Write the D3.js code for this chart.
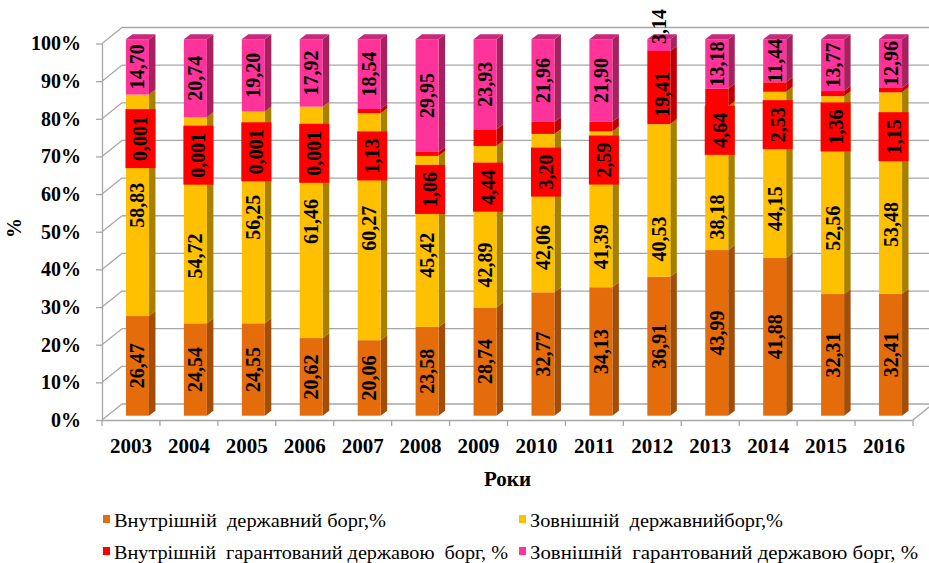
<!DOCTYPE html>
<html><head><meta charset="utf-8">
<script src="https://cdn.jsdelivr.net/npm/d3@7"></script>
<style>
html,body{margin:0;padding:0;background:#fff;}
svg{display:block;}
</style></head>
<body>
<svg id="chart" width="929" height="563"></svg>
<script>
// ---------- data ----------
const years = ["2003","2004","2005","2006","2007","2008","2009","2010","2011","2012","2013","2014","2015","2016"];
const internalDebt   = [26.47,24.54,24.55,20.62,20.06,23.58,28.74,32.77,34.13,36.91,43.99,41.88,32.31,32.41];
const externalDebt   = [58.83,54.72,56.25,61.46,60.27,45.42,42.89,42.06,41.39,40.53,38.18,44.15,52.56,53.48];
const internalGuar   = [0.001,0.001,0.001,0.001,1.13,1.06,4.44,3.20,2.59,19.41,4.64,2.53,1.36,1.15];
const externalGuar   = [14.70,20.74,19.20,17.92,18.54,29.95,23.93,21.96,21.90,3.14,13.18,11.44,13.77,12.96];
const seriesNames = ["Внутрішній  державний борг,%","Зовнішній  державнийборг,%","Внутрішній  гарантований державою  борг, %","Зовнішній  гарантований державою борг, %"];
const yTicks = [0,10,20,30,40,50,60,70,80,90,100];
// label anchors (axis %) where labels were moved by hand in the original
const yellowLabelAt = [55.9,42.4,52.7,51.6,49.8,42.6,40.0,44.7,44.9,46.9,52.8,55.0,49.8,50.8];
const redLabelAt    = [73.6,69.2,70.1,69.7,69.0,60.1,60.7,64.7,67.9,85.4,75.8,77.3,76.7,74.1];
const pinkLabelAt   = [null,null,null,null,null,null,null,null,null,103.4,null,null,null,null];

// ---------- styles ----------
const FONT = "Liberation Serif";
const colors = [
  {front:"#E46C0A", side:"#A24D08", top:"#C25C09"},
  {front:"#FFC000", side:"#A88000", top:"#D9A300"},
  {front:"#FF0000", side:"#C00000", top:"#D60000"},
  {front:"#FF3399", side:"#A8215F", top:"#C8287A"}
];
const gridColor = "#A6A6A6";

const svg = d3.select("#chart");
const X0 = 102, X1 = 913, Y0 = 420, Y100 = 43.5;
const D = {x:20, y:-16};           // wall depth
const B = {x:6.5, y:-4.3};         // bar front-face offset
const BD = {x:6.5, y:-5};          // bar depth
const barW = 23;

const x = d3.scaleBand().domain(years).range([X0, X1]);
const yF = d3.scaleLinear().domain([0,100]).range([Y0, Y100]);   // front plane
const yB = v => yF(v) + B.y;                                       // bar front plane

function styleText(sel, size, bold) {
  return sel.style("font-family", FONT).style("font-size", size + "px")
    .style("font-weight", bold ? "bold" : "normal").attr("fill", "#000");
}

// ---------- walls / grid ----------
const g = svg.append("g");
yTicks.forEach(v => {
  g.append("line").attr("x1",X0).attr("y1",yF(v)).attr("x2",X0+D.x).attr("y2",yF(v)+D.y)
    .attr("stroke",gridColor).attr("stroke-width",1.3);
  g.append("line").attr("x1",X0+D.x).attr("y1",yF(v)+D.y).attr("x2",X1+D.x).attr("y2",yF(v)+D.y)
    .attr("stroke",gridColor).attr("stroke-width",1.3);
});
g.append("line").attr("x1",X1).attr("y1",Y0).attr("x2",X1+D.x).attr("y2",Y0+D.y)
  .attr("stroke",gridColor).attr("stroke-width",1.3);

// front axes
const yAxis = d3.axisLeft(yF).tickValues(yTicks).tickSize(6).tickSizeOuter(0).tickPadding(15)
  .tickFormat(d => d + "%");
const ya = svg.append("g").attr("transform",`translate(${X0},0)`).call(yAxis);
ya.attr("font-family", null).attr("font-size", null);
ya.selectAll("path,line").attr("stroke",gridColor).attr("stroke-width",1.3);
styleText(ya.selectAll("text"), 20, true);

const xa = svg.append("g").attr("transform",`translate(0,${Y0})`)
  .call(d3.axisBottom(x).tickSize(0).tickSizeOuter(0).tickPadding(18));
xa.attr("font-family", null).attr("font-size", null);
xa.select("path").attr("stroke",gridColor).attr("stroke-width",1.3);
styleText(xa.selectAll("text"), 21, true);
d3.range(years.length+1).forEach(i => {
  const xx = X0 + i*x.bandwidth();
  svg.append("line").attr("x1",xx).attr("x2",xx).attr("y1",Y0).attr("y2",Y0+6)
    .attr("stroke",gridColor).attr("stroke-width",1.3);
});

// ---------- bars ----------
const table = years.map((yr,i)=>({year:yr, a:internalDebt[i], b:externalDebt[i], c:internalGuar[i], d:externalGuar[i]}));
const keys = ["a","b","c","d"];
const stacked = d3.stack().keys(keys).offset(d3.stackOffsetExpand)(table);

const bars = svg.append("g");
years.forEach((yr,i) => {
  const xl = x(yr) + x.bandwidth()/2 - barW/2 + B.x;
  const xr = xl + barW;
  stacked.forEach((s,k) => {
    const v0 = s[i][0]*100, v1 = s[i][1]*100;
    const yb = yB(v0), yt = yB(v1);
    const c = colors[k];
    bars.append("path")
      .attr("d",`M${xr},${yb}L${xr+BD.x},${yb+BD.y}L${xr+BD.x},${yt+BD.y}L${xr},${yt}Z`)
      .attr("fill",c.side);
    bars.append("rect").attr("x",xl).attr("y",yt).attr("width",barW).attr("height",Math.max(0,yb-yt))
      .attr("fill",c.front);
    if (k === keys.length-1) {
      bars.append("path")
        .attr("d",`M${xl},${yt}L${xl+BD.x},${yt+BD.y}L${xr+BD.x},${yt+BD.y}L${xr},${yt}Z`)
        .attr("fill",c.top);
    }
  });
});

// ---------- labels ----------
const fmt = v => v < 0.01 ? String(v).replace(".",",") : v.toFixed(2).replace(".",",");
const valuesBySeries = [internalDebt, externalDebt, internalGuar, externalGuar];
const lab = svg.append("g");
years.forEach((yr,i) => {
  const cx = x(yr) + x.bandwidth()/2 + B.x;
  stacked.forEach((s,k) => {
    const v0 = s[i][0]*100, v1 = s[i][1]*100;
    let at = (v0+v1)/2;
    if (k===1) at = yellowLabelAt[i];
    if (k===2) at = redLabelAt[i];
    if (k===3 && pinkLabelAt[i]!=null) at = pinkLabelAt[i];
    const cy = yB(at);
    const txt = fmt(valuesBySeries[k][i]);
    const gg = lab.append("g").attr("transform",`translate(${k===2?cx+3:cx},${cy}) rotate(-90)`);
    const t = styleText(gg.append("text").attr("text-anchor","middle").attr("dy","0.35em"), 20, true).text(txt);
    if (k===2 && (at < v0 || at > v1)) {
      const w = t.node().getComputedTextLength();
      gg.insert("rect","text").attr("x",-w/2-7).attr("y",-15).attr("width",w+14).attr("height",30)
        .attr("fill","#FF0000");
    }
  });
});

// ---------- axis titles ----------
styleText(svg.append("text").attr("x",(X0+X1)/2).attr("y",486).attr("text-anchor","middle"), 21, true).text("Роки");
styleText(svg.append("text").attr("transform","translate(14,228) rotate(-90)").attr("text-anchor","middle")
  .attr("dy","0.35em"), 20, true).text("%");

// ---------- legend ----------
const legPos = [{x:103,y:527,w:272},{x:519,y:527,w:253},{x:103,y:559,w:394},{x:519,y:559,w:388}];
seriesNames.forEach((n,k) => {
  const p = legPos[k];
  svg.append("rect").attr("x",p.x).attr("y",p.y-12).attr("width",7).attr("height",8).attr("fill",colors[k].front);
  styleText(svg.append("text").attr("x",p.x+11).attr("y",p.y), 19, false)
    .style("white-space","pre").attr("textLength",p.w).attr("lengthAdjust","spacingAndGlyphs")
    .text(n);
});
</script>
</body></html>
